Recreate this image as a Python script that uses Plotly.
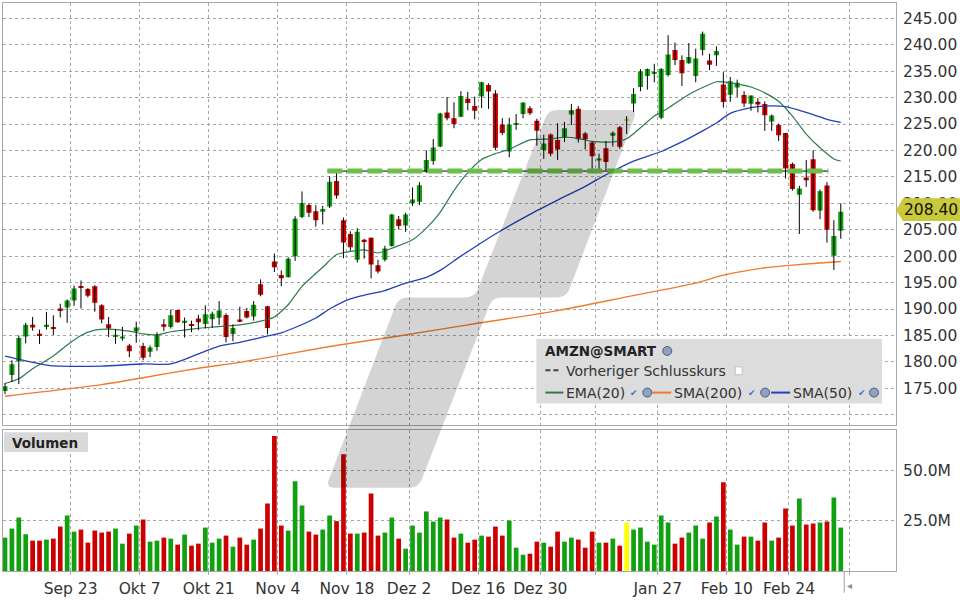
import plotly.graph_objects as go

# ---------------- data ----------------
dates = [
    "2024-09-09", "2024-09-10", "2024-09-11", "2024-09-12", "2024-09-13", "2024-09-16", "2024-09-17", "2024-09-18",
    "2024-09-19", "2024-09-20", "2024-09-23", "2024-09-24", "2024-09-25", "2024-09-26", "2024-09-27", "2024-09-30",
    "2024-10-01", "2024-10-02", "2024-10-03", "2024-10-04", "2024-10-07", "2024-10-08", "2024-10-09", "2024-10-10",
    "2024-10-11", "2024-10-14", "2024-10-15", "2024-10-16", "2024-10-17", "2024-10-18", "2024-10-21", "2024-10-22",
    "2024-10-23", "2024-10-24", "2024-10-25", "2024-10-28", "2024-10-29", "2024-10-30", "2024-10-31", "2024-11-01",
    "2024-11-04", "2024-11-05", "2024-11-06", "2024-11-07", "2024-11-08", "2024-11-11", "2024-11-12", "2024-11-13",
    "2024-11-14", "2024-11-15", "2024-11-18", "2024-11-19", "2024-11-20", "2024-11-21", "2024-11-22", "2024-11-25",
    "2024-11-26", "2024-11-27", "2024-11-29", "2024-12-02", "2024-12-03", "2024-12-04", "2024-12-05", "2024-12-06",
    "2024-12-09", "2024-12-10", "2024-12-11", "2024-12-12", "2024-12-13", "2024-12-16", "2024-12-17", "2024-12-18",
    "2024-12-19", "2024-12-20", "2024-12-23", "2024-12-24", "2024-12-26", "2024-12-27", "2024-12-30", "2024-12-31",
    "2025-01-02", "2025-01-03", "2025-01-06", "2025-01-07", "2025-01-08", "2025-01-10", "2025-01-13", "2025-01-14",
    "2025-01-15", "2025-01-16", "2025-01-17", "2025-01-21", "2025-01-22", "2025-01-23", "2025-01-24", "2025-01-27",
    "2025-01-28", "2025-01-29", "2025-01-30", "2025-01-31", "2025-02-03", "2025-02-04", "2025-02-05", "2025-02-06",
    "2025-02-07", "2025-02-10", "2025-02-11", "2025-02-12", "2025-02-13", "2025-02-14", "2025-02-18", "2025-02-19",
    "2025-02-20", "2025-02-21", "2025-02-24", "2025-02-25", "2025-02-26", "2025-02-27", "2025-02-28", "2025-03-03",
    "2025-03-04", "2025-03-05",
]
opens = [
    174.5, 177.5, 180.1, 184.8, 187.0, 185.3, 186.85, 186.5, 190.0, 190.3, 191.6, 194.3, 193.8, 194.3, 190.7, 187.1,
    184.9, 184.4, 183.1, 185.75, 183.0, 181.9, 182.8, 187.1, 186.6, 189.8, 187.6, 187.05, 188.2, 187.15, 188.05, 188.35,
    188.85, 185.25, 188.0, 189.6, 188.6, 194.7, 190.5, 199.0, 196.45, 196.0, 200.0, 207.4, 209.7, 208.5, 208.4, 209.4,
    214.2, 206.8, 204.2, 199.3, 203.1, 203.5, 198.3, 199.3, 201.9, 207.0, 205.8, 210.0, 210.3, 216.0, 218.0, 220.75,
    227.2, 226.1, 226.4, 229.8, 228.4, 230.2, 232.4, 230.8, 224.9, 219.8, 225.0, 226.9, 228.0, 225.6, 220.1, 223.0,
    222.0, 222.5, 226.8, 227.9, 223.2, 221.5, 218.1, 220.4, 222.8, 224.4, 225.8, 228.9, 232.0, 234.1, 234.5, 226.2,
    234.3, 239.0, 237.1, 236.5, 234.1, 239.0, 237.0, 238.0, 232.5, 230.55, 231.9, 230.5, 228.85, 229.2, 228.8, 225.5,
    224.8, 223.3, 217.45, 211.6, 214.9, 218.35, 208.65, 213.35, 200.1, 204.8,
]
highs = [
    176.0, 180.3, 185.0, 187.4, 188.5, 186.1, 189.45, 188.8, 191.0, 191.8, 194.45, 195.4, 194.0, 194.5, 190.9, 188.5,
    186.2, 186.6, 183.4, 187.6, 183.6, 183.1, 185.6, 188.1, 189.9, 189.8, 188.4, 187.8, 188.9, 190.7, 189.5, 191.5,
    189.2, 187.1, 190.45, 190.2, 191.5, 195.6, 190.6, 200.5, 197.3, 199.8, 207.55, 212.25, 210.0, 209.65, 209.5, 215.1,
    215.9, 207.3, 204.7, 205.3, 203.3, 203.5, 199.3, 201.95, 208.0, 207.6, 208.2, 213.0, 214.0, 220.0, 222.15, 227.15,
    230.1, 229.1, 231.2, 231.1, 230.2, 233.0, 232.7, 231.4, 226.1, 226.2, 226.9, 229.1, 228.4, 226.0, 223.0, 223.2,
    225.15, 225.4, 228.8, 228.4, 223.5, 221.7, 219.4, 221.8, 223.6, 224.65, 226.5, 231.8, 235.4, 235.5, 236.4, 235.6,
    241.8, 240.4, 238.0, 240.3, 239.25, 242.5, 238.3, 239.7, 234.8, 233.9, 233.4, 231.2, 230.4, 229.9, 229.3, 226.8,
    225.1, 223.3, 217.7, 213.3, 218.2, 220.0, 212.6, 214.0, 206.8, 210.0,
]
lows = [
    173.9, 176.2, 175.8, 183.5, 185.9, 183.4, 186.1, 185.1, 188.4, 187.4, 190.6, 190.1, 192.2, 189.5, 187.3, 184.7,
    183.4, 184.0, 180.9, 183.6, 180.3, 180.9, 182.1, 185.8, 186.3, 187.4, 184.6, 185.6, 186.0, 186.3, 186.4, 187.0,
    183.7, 183.9, 187.5, 188.2, 187.8, 192.4, 185.2, 197.0, 194.3, 196.0, 199.1, 207.2, 207.4, 205.6, 206.0, 209.1,
    210.9, 199.6, 201.0, 198.8, 199.5, 195.8, 196.75, 199.0, 201.8, 205.05, 204.6, 209.5, 209.65, 215.75, 217.3, 220.6,
    225.7, 224.2, 226.3, 227.6, 225.9, 228.0, 227.85, 220.1, 222.9, 218.7, 223.9, 226.1, 226.7, 220.9, 218.4, 218.9,
    218.2, 221.6, 224.8, 221.5, 220.2, 216.5, 216.5, 216.2, 220.75, 220.3, 223.1, 227.25, 231.2, 231.5, 232.9, 225.9,
    234.0, 236.15, 232.2, 236.4, 232.9, 238.0, 235.2, 236.0, 228.1, 229.2, 230.1, 228.2, 227.5, 227.2, 223.7, 223.7,
    221.8, 214.7, 212.4, 204.2, 213.1, 208.4, 207.0, 202.55, 197.4, 203.3,
]
closes = [
    175.4, 179.55, 184.5, 187.0, 186.5, 184.9, 186.9, 186.4, 189.9, 191.6, 193.9, 194.0, 192.5, 191.2, 188.0, 186.3,
    185.1, 184.8, 182.0, 186.5, 180.8, 182.7, 185.2, 186.65, 188.8, 187.5, 187.7, 186.9, 187.5, 189.0, 189.1, 189.7,
    184.7, 186.4, 187.6, 188.4, 190.8, 192.7, 186.4, 197.9, 195.8, 199.5, 207.1, 210.05, 208.2, 206.8, 208.9, 214.1,
    211.5, 202.6, 201.7, 204.6, 202.8, 198.4, 197.1, 201.45, 207.9, 205.7, 207.9, 210.7, 213.4, 218.2, 220.55, 227.0,
    226.1, 225.0, 230.3, 229.0, 227.5, 232.9, 231.15, 220.5, 223.3, 224.9, 225.1, 229.05, 227.05, 223.75, 221.3, 219.4,
    220.2, 224.2, 227.6, 222.1, 222.1, 218.9, 218.5, 217.8, 223.35, 220.7, 225.9, 230.7, 235.0, 235.4, 234.85, 235.4,
    238.15, 237.1, 234.6, 237.7, 237.4, 242.1, 236.2, 238.8, 229.15, 233.1, 232.8, 228.9, 230.4, 228.7, 226.65, 226.6,
    222.9, 216.6, 212.7, 212.8, 214.35, 208.7, 212.3, 205.0, 203.8, 208.4,
]
volume_m = [
    16.6, 21.1, 26.6, 18.3, 15.1, 15.1, 15.6, 16.1, 22.1, 27.6, 19.6, 20.6, 14.1, 20.1, 19.1, 19.6,
    21.1, 13.6, 18.6, 22.6, 25.6, 14.6, 15.1, 16.6, 16.1, 13.1, 18.1, 12.6, 13.6, 21.6, 14.1, 16.1,
    17.6, 12.1, 16.6, 13.1, 15.6, 21.1, 33.6, 67.1, 22.6, 20.1, 44.6, 32.6, 19.6, 18.1, 20.6, 27.6,
    24.8, 58.1, 18.6, 18.6, 19.1, 38.6, 17.6, 19.1, 26.6, 16.1, 11.1, 22.6, 19.1, 29.6, 24.6, 26.6,
    25.6, 16.6, 18.6, 14.1, 15.6, 17.6, 17.1, 22.1, 17.6, 25.1, 11.6, 8.1, 8.6, 14.6, 14.1, 12.1,
    19.6, 14.6, 16.6, 15.6, 11.6, 19.6, 14.1, 14.1, 16.1, 12.6, 24.1, 20.6, 21.6, 14.6, 13.1, 27.6,
    24.1, 13.6, 16.6, 19.1, 22.6, 16.1, 24.1, 27.1, 44.1, 20.6, 13.1, 17.1, 17.1, 15.1, 24.1, 15.1,
    16.6, 31.1, 22.6, 36.1, 23.1, 23.6, 24.1, 24.6, 36.6, 21.6,
]
highlight_dates = ["2025-01-17"]

ema20_dates = ["2024-09-09", "2024-09-11", "2024-09-13", "2024-09-18", "2024-09-20", "2024-09-24", "2024-09-26",
               "2024-09-30", "2024-10-03", "2024-10-07", "2024-10-09", "2024-10-11", "2024-10-16", "2024-10-21",
               "2024-10-25", "2024-10-30", "2024-11-01", "2024-11-05", "2024-11-07", "2024-11-12", "2024-11-14",
               "2024-11-18", "2024-11-20", "2024-11-22", "2024-11-26", "2024-12-02", "2024-12-04", "2024-12-06",
               "2024-12-10", "2024-12-12", "2024-12-16", "2024-12-18", "2024-12-20", "2024-12-26", "2024-12-31",
               "2025-01-03", "2025-01-07", "2025-01-10", "2025-01-15", "2025-01-17", "2025-01-22", "2025-01-24",
               "2025-01-28", "2025-01-31", "2025-02-04", "2025-02-06", "2025-02-10", "2025-02-13", "2025-02-18",
               "2025-02-20", "2025-02-24", "2025-02-26", "2025-02-28", "2025-03-04", "2025-03-05"]
ema20_vals = [175.9, 176.8, 178.7, 181.1, 183.2, 185.0, 186.0, 186.2, 185.8, 185.3, 185.1, 185.7, 186.2, 186.6,
              187.0, 187.7, 188.5, 190.8, 194.3, 197.9, 200.3, 200.9, 201.2, 200.6, 201.5, 203.1, 205.3, 208.3,
              212.4, 215.8, 218.3, 219.4, 220.2, 222.0, 222.2, 222.5, 222.3, 221.7, 221.6, 222.2, 224.3, 226.5,
              228.0, 230.6, 231.9, 233.0, 232.8, 232.0, 230.9, 229.3, 226.5, 223.1, 220.5, 218.4, 218.0]

sma50_dates = ["2024-09-09", "2024-09-11", "2024-09-17", "2024-09-19", "2024-09-27", "2024-10-07", "2024-10-11",
               "2024-10-17", "2024-10-22", "2024-10-25", "2024-10-30", "2024-11-04", "2024-11-06", "2024-11-11",
               "2024-11-13", "2024-11-18", "2024-11-20", "2024-11-25", "2024-11-29", "2024-12-04", "2024-12-06",
               "2024-12-11", "2024-12-18", "2024-12-26", "2025-01-02", "2025-01-08", "2025-01-14", "2025-01-21",
               "2025-01-27", "2025-01-29", "2025-01-31", "2025-02-04", "2025-02-06", "2025-02-10", "2025-02-13",
               "2025-02-18", "2025-02-21", "2025-02-25", "2025-02-27", "2025-03-03", "2025-03-05"]
sma50_vals = [181.1, 180.5, 179.4, 179.2, 179.2, 179.6, 179.6, 181.5, 183.0, 183.7, 184.6, 185.5, 186.5, 188.3,
              190.0, 191.9, 192.6, 193.5, 194.9, 196.0, 197.3, 200.0, 204.2, 207.9, 210.6, 213.2, 215.4, 218.0,
              219.8, 221.0, 222.3, 223.7, 225.2, 227.0, 228.1, 228.4, 228.3, 227.6, 226.8, 225.9, 225.3]

sma200_dates = ["2024-09-09", "2024-09-27", "2024-10-07", "2024-10-17", "2024-10-25", "2024-11-13", "2024-11-27",
                "2024-12-12", "2025-01-02", "2025-01-17", "2025-02-03", "2025-02-07", "2025-02-18", "2025-02-24",
                "2025-02-28", "2025-03-05"]
sma200_vals = [173.5, 175.7, 177.0, 178.8, 179.9, 182.9, 184.9, 187.0, 189.7, 192.3, 194.9, 196.4, 197.8, 198.3,
               198.7, 199.0]

tick_dates = ["2024-09-23", "2024-10-07", "2024-10-21", "2024-11-04", "2024-11-18", "2024-12-02", "2024-12-16",
              "2024-12-30", "2025-01-13", "2025-01-27", "2025-02-10", "2025-02-24"]
tick_labels = ["Sep 23", "Okt 7", "Okt 21", "Nov 4", "Nov 18", "Dez 2", "Dez 16", "Dez 30", "", "Jan 27",
               "Feb 10", "Feb 24"]
price_ticks = [170, 175, 180, 185, 190, 195, 200, 205, 210, 215, 220, 225, 230, 235, 240, 245]
volume_ticks = [25, 50]
volume_tick_labels = ["25.0M", "50.0M"]
last_price = 208.40
level_price = 216.1
level_start, level_end = "2024-11-13", "2025-03-03"

# ---------------- styling / geometry ----------------
W, H = 960, 600
ML, MR, MT, MB = 2, 64, 2, 25
PW, PH = W - ML - MR, H - MT - MB
FONT = "DejaVu Sans"
GREEN, RED, YELLOW = "#10a010", "#cc0000", "#dede50"
GRID, BORDER = "#a6a6a6", "#a8a8a8"


def px(x):
    return (x - ML) / PW


def py(y):
    return (H - MB - y) / PH


pos = {d: i for i, d in enumerate(dates)}
idx = list(range(len(dates)))

fig = go.Figure()

# moving averages
for ds, vs, col, wd in [(sma200_dates, sma200_vals, "#f07a30", 1.4),
                        (sma50_dates, sma50_vals, "#2040b8", 1.3),
                        (ema20_dates, ema20_vals, "#2f7a4c", 1.2)]:
    fig.add_trace(go.Scatter(x=[pos[d] for d in ds], y=vs, mode="lines",
                             line=dict(color=col, width=wd, shape="spline", smoothing=0.6),
                             xaxis="x", yaxis="y", hoverinfo="skip"))

# wicks
wx, wy = [], []
for i, h, l in zip(idx, highs, lows):
    wx += [i, i, None]
    wy += [l, h, None]
fig.add_trace(go.Scatter(x=wx, y=wy, mode="lines", line=dict(color="#000000", width=1),
                         xaxis="x", yaxis="y", hoverinfo="skip"))

# bodies
cols, vcols, bases, hts = [], [], [], []
for d, o, c in zip(dates, opens, closes):
    if d in highlight_dates:
        cols.append(YELLOW)
        vcols.append("#ffff00")
    elif c >= o:
        cols.append(GREEN)
        vcols.append(GREEN)
    else:
        cols.append(RED)
        vcols.append(RED)
    hgt = max(abs(c - o), 0.28)
    bases.append((o + c) / 2 - hgt / 2)
    hts.append(hgt)
fig.add_trace(go.Bar(x=idx, y=hts, base=bases, width=0.74, marker=dict(color=cols, line=dict(width=0)),
                     xaxis="x", yaxis="y", hoverinfo="skip"))

# volume
fig.add_trace(go.Bar(x=idx, y=volume_m, width=0.68, marker=dict(color=vcols, line=dict(width=0)),
                     xaxis="x2", yaxis="y2", hoverinfo="skip"))

xr = [(ML - 4) / 6.915, (ML - 4) / 6.915 + PW / 6.915]
tickvals = [pos[d] - 0.5 for d in tick_dates] + [122.25]
ticktext = tick_labels + [""]

axis_common = dict(showgrid=True, gridcolor=GRID, griddash="3px,3px", gridwidth=1, zeroline=False,
                   showline=True, linecolor=BORDER, linewidth=1, mirror=True)

fig.update_layout(
    width=W, height=H, margin=dict(l=ML, r=MR, t=MT, b=MB),
    paper_bgcolor="white", plot_bgcolor="white", showlegend=False, barmode="overlay",
    hovermode=False, font=dict(family=FONT, size=15, color="#333333"),
    xaxis=dict(domain=[0, 1], anchor="y", range=xr, tickvals=tickvals, ticktext=[""] * len(tickvals),
               showticklabels=False, ticks="", **axis_common),
    yaxis=dict(domain=[py(428), 1], anchor="x", side="right", range=[168.0, 247.9],
               tickvals=price_ticks, ticktext=["" if v == 170 else f"{v:.2f}" for v in price_ticks],
               ticks="outside", ticklen=3, tickcolor="rgba(0,0,0,0)",
               tickfont=dict(family=FONT, size=15.5, color="#333333"), **axis_common),
    xaxis2=dict(domain=[0, 1], anchor="y2", range=xr, tickvals=tickvals, ticktext=ticktext,
                ticks="outside", ticklen=3, tickcolor=BORDER,
                tickfont=dict(family=FONT, size=15.5, color="#333333"), **axis_common),
    yaxis2=dict(domain=[0, py(433)], anchor="x2", side="right", range=[0, 70],
                tickvals=volume_ticks, ticktext=volume_tick_labels,
                ticks="outside", ticklen=3, tickcolor="rgba(0,0,0,0)",
                tickfont=dict(family=FONT, size=15.5, color="#333333"), **axis_common),
)

shapes = []

# horizontal drawn level line (thin black + light green dashes)
lx0, lx1 = pos[level_start] - 0.33, pos[level_end] + 0.2
shapes.append(dict(type="line", xref="x", yref="y", x0=lx0, x1=lx1, y0=level_price, y1=level_price,
                   line=dict(color="#000000", width=1), layer="above"))
shapes.append(dict(type="line", xref="x", yref="y", x0=lx0, x1=lx1, y0=level_price, y1=level_price,
                   line=dict(color="#6cbf4a", width=5, dash="15px,5px"), layer="above"))


# watermark shape (pixel polygon with rounded corners)
def rounded_path(pts, r):
    n = len(pts)

    def towards(p, q, d):
        dx, dy = q[0] - p[0], q[1] - p[1]
        ln = (dx * dx + dy * dy) ** 0.5
        return (p[0] + dx / ln * d, p[1] + dy / ln * d)

    parts = []
    for k in range(n):
        p, a, b = pts[k], pts[k - 1], pts[(k + 1) % n]
        p1, p2 = towards(p, a, r), towards(p, b, r)
        cmd = "M" if k == 0 else "L"
        parts.append(f"{cmd} {px(p1[0]):.5f},{py(p1[1]):.5f} Q {px(p[0]):.5f},{py(p[1]):.5f} "
                     f"{px(p2[0]):.5f},{py(p2[1]):.5f}")
    return " ".join(parts) + " Z"


mark = [(548, 110), (637, 110), (566, 299), (492, 299), (418, 491), (325, 491), (398, 299), (474, 299)]
shapes.append(dict(type="path", xref="paper", yref="paper", path=rounded_path(mark, 9),
                   fillcolor="rgba(0,0,0,0.17)", line=dict(width=0), layer="above"))

# legend box
shapes.append(dict(type="rect", xref="paper", yref="paper", x0=px(536), x1=px(882), y0=py(406), y1=py(341),
                   fillcolor="#dcdcdc", line=dict(width=0), layer="above"))
# volume label box
shapes.append(dict(type="rect", xref="paper", yref="paper", x0=px(3), x1=px(87), y0=py(455), y1=py(435),
                   fillcolor="#d9d9d9", line=dict(width=0), layer="above"))

# legend line samples
shapes.append(dict(type="line", xref="paper", yref="paper", x0=px(545), x1=px(561), y0=py(372.5), y1=py(372.5),
                   line=dict(color="#444444", width=2, dash="5px,3px"), layer="above"))
for x0, x1, col in [(545, 563, "#2f7a4c"), (652, 671, "#f07a30"), (771, 790, "#2040b8")]:
    shapes.append(dict(type="line", xref="paper", yref="paper", x0=px(x0), x1=px(x1), y0=py(395), y1=py(395),
                       line=dict(color=col, width=2), layer="above"))
shapes.append(dict(type="rect", xref="paper", yref="paper", x0=px(735), x1=px(742), y0=py(377), y1=py(369),
                   fillcolor="white", line=dict(color="#c0c0c0", width=1), layer="above"))
for gx, gy in [(667, 353), (647, 395), (765, 395), (874, 395)]:
    shapes.append(dict(type="circle", xref="paper", yref="paper", x0=px(gx - 4.5), x1=px(gx + 4.5),
                       y0=py(gy + 4.5), y1=py(gy - 4.5), fillcolor="#8fa3bf",
                       line=dict(color="#4a5a78", width=1), layer="above"))

# last price tag
tag_y = 211
tag = (f"M {px(896):.5f},{py(tag_y):.5f} L {px(903):.5f},{py(199):.5f} L {px(960):.5f},{py(199):.5f} "
       f"L {px(960):.5f},{py(222):.5f} L {px(903):.5f},{py(222):.5f} Z")
shapes.append(dict(type="path", xref="paper", yref="paper", path=tag, fillcolor="#c9c93a",
                   line=dict(width=0), layer="above"))

# "now" marker below axis
shapes.append(dict(type="line", xref="x2", yref="paper", x0=len(dates) - 0.5, x1=len(dates) - 0.5,
                   y0=0, y1=py(597), line=dict(color="#a0a0a0", width=1), layer="above"))

fig.update_layout(shapes=shapes)

ann = []


def text(x, y, s, size=14, bold=False, color="#333333", xanchor="left"):
    ann.append(dict(xref="paper", yref="paper", x=px(x), y=py(y), text=f"<b>{s}</b>" if bold else s,
                    showarrow=False, xanchor=xanchor, yanchor="middle",
                    font=dict(family=FONT, size=size, color=color)))


text(543, 353, "AMZN@SMART", 13.5, True, "#222222")
text(564, 373, "Vorheriger Schlusskurs", 14)
text(564, 395, "EMA(20)", 14)
text(672, 395, "SMA(200)", 14)
text(791, 395, "SMA(50)", 14)
for cx in [634, 752, 862]:
    text(cx, 395, "✔", 9, False, "#3a6ed8", "center")
text(9, 445.5, "Volumen", 13.5, True, "#222222")
text(931, tag_y, f"{last_price:.2f}", 15.5, False, "#111111", "center")
text(849, 590, "◂", 10, False, "#8a8a8a", "center")

fig.update_layout(annotations=ann)

fig.write_html("out.html")
